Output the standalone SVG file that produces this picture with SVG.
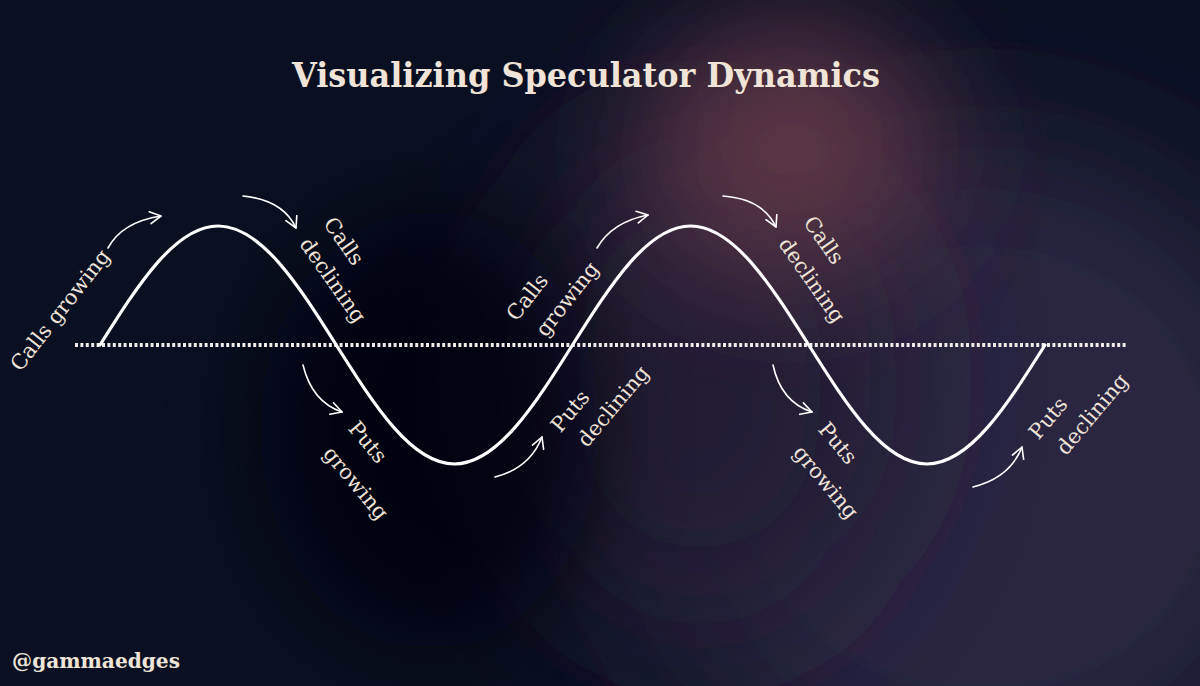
<svg xmlns="http://www.w3.org/2000/svg" width="1200" height="686" viewBox="0 0 1200 686">
<defs>
<filter id="b80" x="-60%" y="-60%" width="220%" height="220%"><feGaussianBlur stdDeviation="80"/></filter>
<filter id="b60" x="-60%" y="-60%" width="220%" height="220%"><feGaussianBlur stdDeviation="60"/></filter>
<filter id="b45" x="-60%" y="-60%" width="220%" height="220%"><feGaussianBlur stdDeviation="45"/></filter>
<marker id="ah" viewBox="-12 -8 14 16" markerWidth="14" markerHeight="16" refX="0" refY="0" orient="auto" markerUnits="userSpaceOnUse">
<path d="M-11,-6 L0,0 L-11,6" fill="none" stroke="#ffffff" stroke-width="1.6" stroke-linecap="round" stroke-linejoin="round"/>
</marker>
<style>
.lbl{font-family:"DejaVu Serif","Liberation Serif",serif;font-size:21px;fill:#efe4d8;}
.title{font-family:"DejaVu Serif","Liberation Serif",serif;font-size:33px;font-weight:bold;fill:#f0e4d8;}
.hand{font-family:"DejaVu Serif","Liberation Serif",serif;font-size:20px;font-weight:bold;fill:#efe4d8;}
.arr{fill:none;stroke:#ffffff;stroke-width:1.6;stroke-linecap:round;marker-end:url(#ah);}
</style>
</defs>
<g id="background">
<rect x="0" y="0" width="1200" height="686" fill="#0a1022"/>
<ellipse cx="980" cy="470" rx="340" ry="330" fill="#2a2642" filter="url(#b80)"/>
<ellipse cx="700" cy="380" rx="200" ry="260" fill="#211c35" filter="url(#b80)"/>
<ellipse cx="790" cy="150" rx="150" ry="130" fill="#5a3444" filter="url(#b60)"/>
<ellipse cx="430" cy="430" rx="170" ry="220" fill="#05060c" opacity="0.8" filter="url(#b45)"/>
</g>
<g id="title"><text class="title" x="586" y="87" text-anchor="middle" textLength="588" lengthAdjust="spacingAndGlyphs">Visualizing Speculator Dynamics</text></g>
<g id="axis"><line x1="75" y1="345" x2="1127" y2="345" stroke="#f0ebe8" stroke-width="4" stroke-dasharray="3 2.4"/></g>
<g id="wave"><path d="M100,345 C138.5,284 175.4,226 218.1,226 C260.8,226 297.7,284 336.25,345 C374.75,406 411.6,464 454.4,464 C497.1,464 534,406 572.5,345 C611,284 647.9,226 690.6,226 C733.3,226 770.2,284 808.75,345 C847.25,406 884.1,464 926.9,464 C969.6,464 1006.5,406 1045,345" fill="none" stroke="#ffffff" stroke-width="3.2" stroke-linecap="round"/></g>
<g id="connectors">
<path class="arr" d="M108,248 Q122,222 161,216"/>
<path class="arr" d="M243,196 Q283,200 296,228"/>
<path class="arr" d="M303,365 Q312,402 342,412"/>
<path class="arr" d="M495,477 Q530,468 542,437"/>
<path class="arr" d="M597,248 Q612,222 648,215"/>
<path class="arr" d="M723,196 Q763,199 776,227"/>
<path class="arr" d="M773,365 Q781,402 812,412"/>
<path class="arr" d="M973,487 Q1010,478 1022,447"/>
</g>
<g id="label-calls-growing-1"><text class="lbl" text-anchor="middle" dy="0.35em" transform="translate(60,310) rotate(-52)">Calls growing</text></g>
<g id="label-calls-declining-1">
<text class="lbl" text-anchor="middle" dy="0.35em" transform="translate(344,241) rotate(55)">Calls</text>
<text class="lbl" text-anchor="middle" dy="0.35em" transform="translate(333,280) rotate(55)">declining</text>
</g>
<g id="label-puts-growing-1">
<text class="lbl" text-anchor="middle" dy="0.35em" transform="translate(368,442) rotate(50)">Puts</text>
<text class="lbl" text-anchor="middle" dy="0.35em" transform="translate(356,483) rotate(50)">growing</text>
</g>
<g id="label-calls-growing-2">
<text class="lbl" text-anchor="middle" dy="0.35em" transform="translate(527,297) rotate(-52)">Calls</text>
<text class="lbl" text-anchor="middle" dy="0.35em" transform="translate(567,299) rotate(-52)">growing</text>
</g>
<g id="label-puts-declining-1">
<text class="lbl" text-anchor="middle" dy="0.35em" transform="translate(570,411) rotate(-50)">Puts</text>
<text class="lbl" text-anchor="middle" dy="0.35em" transform="translate(613,406) rotate(-50)">declining</text>
</g>
<g id="label-calls-declining-2">
<text class="lbl" text-anchor="middle" dy="0.35em" transform="translate(824,240) rotate(55)">Calls</text>
<text class="lbl" text-anchor="middle" dy="0.35em" transform="translate(812,280) rotate(55)">declining</text>
</g>
<g id="label-puts-growing-2">
<text class="lbl" text-anchor="middle" dy="0.35em" transform="translate(838,443) rotate(50)">Puts</text>
<text class="lbl" text-anchor="middle" dy="0.35em" transform="translate(826,482) rotate(50)">growing</text>
</g>
<g id="label-puts-declining-2">
<text class="lbl" text-anchor="middle" dy="0.35em" transform="translate(1048,418) rotate(-50)">Puts</text>
<text class="lbl" text-anchor="middle" dy="0.35em" transform="translate(1092,414) rotate(-50)">declining</text>
</g>
<g id="handle"><text class="hand" x="12" y="668" textLength="168" lengthAdjust="spacingAndGlyphs">@gammaedges</text></g>
</svg>
